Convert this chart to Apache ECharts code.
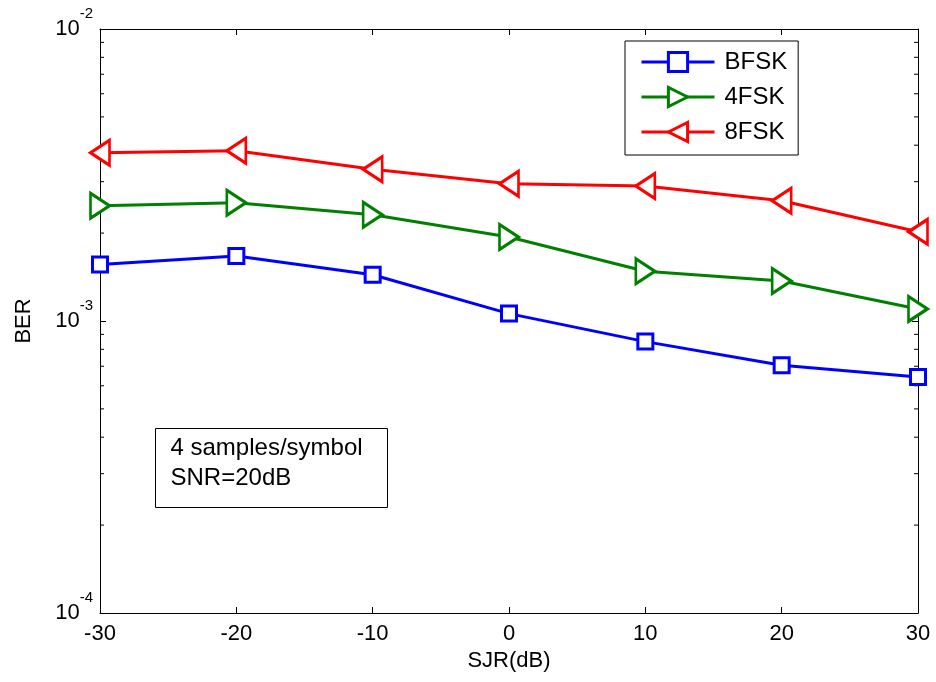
<!DOCTYPE html>
<html><head><meta charset="utf-8">
<script src="https://cdn.jsdelivr.net/npm/echarts@6/dist/echarts.min.js"></script>
<style>html,body{margin:0;padding:0;background:#fff}#c{width:936px;height:682px}</style>
</head><body><div id="c"></div>
<script>
var categories = [-30, -20, -10, 0, 10, 20, 30];
var bfsk = [1.56e-3, 1.67e-3, 1.44e-3, 1.06e-3, 8.5e-4, 7.05e-4, 6.43e-4];
var fsk4 = [2.48e-3, 2.54e-3, 2.31e-3, 1.94e-3, 1.48e-3, 1.37e-3, 1.10e-3];
var fsk8 = [3.77e-3, 3.83e-3, 3.31e-3, 2.95e-3, 2.90e-3, 2.58e-3, 2.02e-3];
var minorTicks = [2e-4,3e-4,4e-4,5e-4,6e-4,7e-4,8e-4,9e-4,2e-3,3e-3,4e-3,5e-3,6e-3,7e-3,8e-3,9e-3];
var seriesNames = ['BFSK', '4FSK', '8FSK'];
var boxLines = ['4 samples/symbol', 'SNR=20dB'];

var FONT = '"Liberation Sans", Arial, sans-serif';
function pairs(arr){ return categories.map(function(x,i){ return [x, arr[i]]; }); }
function expLabel(v){
  var e = Math.round(Math.log(v)/Math.LN10);
  return '{b|10}{e|' + e + '}';
}
var chart = echarts.init(document.getElementById('c'));
var lineSeries = function(name, data, color, symbol, rot, size){
  return {
    name: name, type: 'line', data: pairs(data),
    symbol: symbol, symbolSize: size, symbolRotate: rot,
    showAllSymbol: true,
    lineStyle: {color: color, width: 3},
    itemStyle: {color: '#fff', borderColor: color, borderWidth: 3},
    emphasis: {disabled: true},
    z: 3
  };
};
var axisCommon = {
  axisLine: {onZero: false, lineStyle: {color: '#000', width: 1}},
  axisTick: {inside: true, length: 6, lineStyle: {color: '#000'}},
  splitLine: {show: false}
};
chart.setOption({
  animation: false,
  textStyle: {fontFamily: FONT},
  grid: {left: 100, right: 18, top: 29, bottom: 69},
  legend: {
    data: seriesNames, orient: 'vertical', left: 625, top: 41,
    padding: [9, 11, 11, 15], itemWidth: 73, itemHeight: 24, itemGap: 11,
    borderColor: '#000', borderWidth: 1, backgroundColor: '#fff',
    lineStyle: {width: 3},
    itemStyle: {borderWidth: 3},
    textStyle: {fontSize: 24, color: '#000', fontFamily: FONT, padding: [0, 0, 0, 5]}
  },
  xAxis: [Object.assign({
    type: 'value', min: -30, max: 30, interval: 10,
    name: 'SJR(dB)', nameLocation: 'middle', nameGap: 37,
    nameTextStyle: {fontSize: 22, color: '#000', fontFamily: FONT},
    axisLabel: {fontSize: 22, color: '#000', margin: 10, fontFamily: FONT}
  }, axisCommon), Object.assign({
    type: 'value', min: -30, max: 30, interval: 10, position: 'top',
    axisLabel: {show: false}
  }, axisCommon)],
  yAxis: [Object.assign({
    type: 'log', logBase: 10, min: 1e-4, max: 1e-2,
    name: 'BER', nameLocation: 'middle', nameGap: 65, nameRotate: 90,
    nameTextStyle: {fontSize: 22, color: '#000', fontFamily: FONT},
    axisLabel: {
      formatter: expLabel, margin: 7, color: '#000',
      rich: {
        b: {fontSize: 22, color: '#000', fontFamily: FONT},
        e: {fontSize: 15, color: '#000', fontFamily: FONT, padding: [0, 0, 30, 0]}
      }
    }
  }, axisCommon), Object.assign({
    type: 'log', logBase: 10, min: 1e-4, max: 1e-2, position: 'right',
    axisLabel: {show: false}
  }, axisCommon)],
  series: [
    lineSeries('BFSK', bfsk, '#0000ff', 'rect', 0, 15),
    lineSeries('4FSK', fsk4, '#008000', 'triangle', -90, [25, 19]),
    lineSeries('8FSK', fsk8, '#ff0000', 'triangle', 90, [25, 19]),
    {
      type: 'custom', name: 'minor', silent: true, z: 2,
      data: minorTicks.map(function(v){ return [-30, v]; }),
      renderItem: function(params, api){
        var p = api.coord([api.value(0), api.value(1)]);
        var cs = params.coordSys;
        var st = {stroke: '#000', lineWidth: 1};
        return {type: 'group', children: [
          {type: 'line', shape: {x1: cs.x, y1: p[1], x2: cs.x + 4, y2: p[1]}, style: st},
          {type: 'line', shape: {x1: cs.x + cs.width - 4, y1: p[1], x2: cs.x + cs.width, y2: p[1]}, style: st}
        ]};
      }
    }
  ],
  graphic: [{
    type: 'group', left: 155, top: 428,
    children: [
      {type: 'rect', shape: {x: 0, y: 0, width: 232, height: 79},
       style: {fill: '#fff', stroke: '#000', lineWidth: 1}},
      {type: 'text', x: 15, y: 20, style: {text: boxLines[0], fontSize: 24, fill: '#000', fontFamily: FONT, verticalAlign: 'middle'}},
      {type: 'text', x: 15, y: 50, style: {text: boxLines[1], fontSize: 24, fill: '#000', fontFamily: FONT, verticalAlign: 'middle'}}
    ]
  }]
});
</script></body></html>
